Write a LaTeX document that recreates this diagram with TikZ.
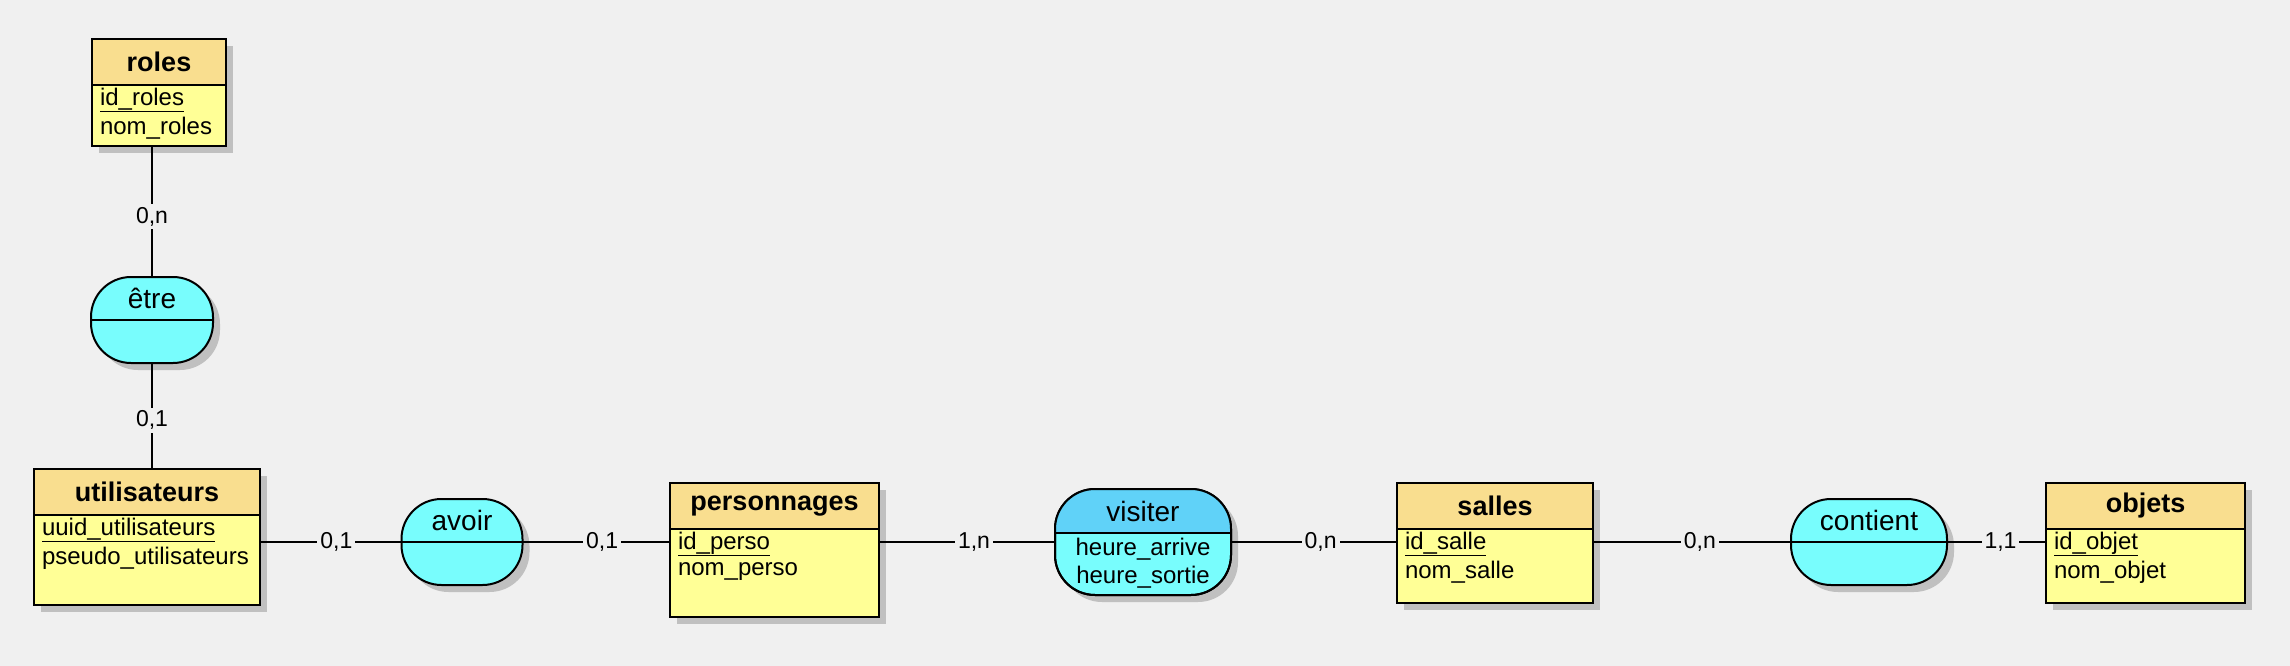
\documentclass[tikz,border=0pt]{standalone}
\usepackage{fontspec}
\setmainfont{Liberation Sans}
\usepackage{xcolor}
\usepackage{tikz}
\usetikzlibrary{shadows,calc}

\definecolor{fond}{HTML}{F0F0F0}
\definecolor{entete}{HTML}{F9DE8F}
\definecolor{corps}{HTML}{FFFF96}
\definecolor{cyanclair}{HTML}{78FDFD}
\definecolor{cyanfonce}{HTML}{60D2F8}
\definecolor{ombre}{HTML}{C0C0C0}

\begin{document}
\begin{tikzpicture}[x=1pt,y=-1pt,line width=2pt,
	ombree/.style={drop shadow={shadow xshift=7pt,shadow yshift=-7pt,fill=ombre,opacity=1}},
	entite/.style={draw,fill=corps,anchor=north west,inner sep=0pt,outer sep=0pt,ombree},
	assoc/.style={draw,fill=cyanclair,rounded corners=40pt,inner sep=0pt,outer sep=0pt,ombree},
	titre/.style={inner sep=0pt,font=\fontsize{27}{30}\selectfont\bfseries},
	nomassoc/.style={inner sep=0pt,font=\fontsize{28}{31}\selectfont},
	attr/.style={inner sep=0pt,font=\fontsize{24}{28}\selectfont},
	card/.style={fill=fond,pos=0.54,inner sep=3pt,font=\fontsize{23}{26}\selectfont}]
	\useasboundingbox[fill=fond] (0,0) rectangle (2290,666);
	% entites
	\foreach \nom/\x/\y/\w/\h/\titre/\cle/\autre in {
		roles/92/39/134/107/roles/id\_roles/nom\_roles,
		utilisateurs/34/469/226/136/utilisateurs/uuid\_utilisateurs/pseudo\_utilisateurs,
		personnages/670/483/209/134/personnages/id\_perso/nom\_perso,
		salles/1397/483/196/120/salles/id\_salle/nom\_salle,
		objets/2046/483/199/120/objets/id\_objet/nom\_objet} {
	\node[entite,minimum width=\w pt,minimum height=\h pt] (\nom) at (\x,\y) {};
	\filldraw[fill=entete] (\nom.north west) rectangle ++(\w,46);
	\node[titre] at ([yshift=-23pt]\nom.north) {\titre};
	\node[attr,anchor=west] at ([xshift=7pt,yshift=-61pt]\nom.north west) {\underline{\cle}};
	\node[attr,anchor=west] at ([xshift=7pt,yshift=-89pt]\nom.north west) {\autre};
	}
	% associations
	\foreach \nom/\x/\y/\w/\titre in {etre/152/320/122/être, avoir/462/542/121/avoir, contient/1869/542/156/contient} {
	\node[assoc,minimum width=\w pt,minimum height=86pt] (\nom) at (\x,\y) {};
	\draw (\nom.west) -- (\nom.east);
	\node[nomassoc] at ([yshift=-21pt]\nom.north) {\titre};
	}
	\node[assoc,minimum width=176pt,minimum height=106pt] (visiter) at (1143,542) {};
	\begin{scope}
	\clip[rounded corners=40pt] (visiter.north west) rectangle (visiter.south east);
	\fill[cyanfonce] (visiter.north west) rectangle ++(176,44);
	\end{scope}
	\draw[rounded corners=40pt] (visiter.north west) rectangle (visiter.south east);
	\draw ([yshift=-44pt]visiter.north west) -- ([yshift=-44pt]visiter.north east);
	\node[nomassoc] at ([yshift=-22pt]visiter.north) {visiter};
	\node[attr] at ([yshift=-60pt]visiter.north) {heure\_arrive};
	\node[attr] at ([yshift=-88pt]visiter.north) {heure\_sortie};
	% liens
	\draw (roles.south -| etre) -- node[card] {0,n} (etre);
	\draw (etre) -- node[card] {0,1} (etre |- utilisateurs.north);
	\draw (utilisateurs.east |- avoir) -- node[card] {0,1} (avoir);
	\draw (avoir) -- node[card] {0,1} (avoir -| personnages.west);
	\draw (personnages.east |- visiter) -- node[card] {1,n} (visiter);
	\draw (visiter) -- node[card] {0,n} (visiter -| salles.west);
	\draw (salles.east |- contient) -- node[card] {0,n} (contient);
	\draw (contient) -- node[card] {1,1} (contient -| objets.west);
\end{tikzpicture}
\end{document}
